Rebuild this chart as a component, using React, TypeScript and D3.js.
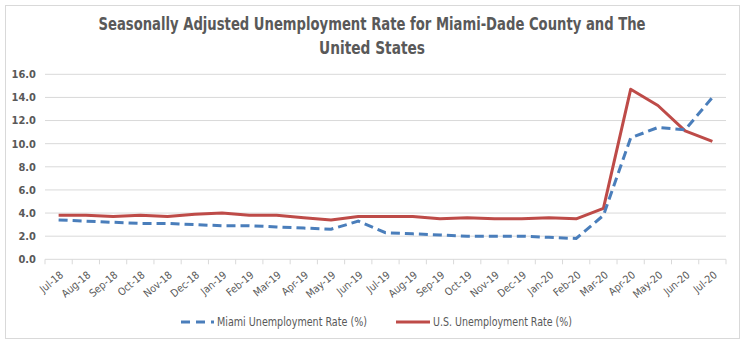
import React from "react";
import * as d3 from "d3";

const months = ["Jul-18","Aug-18","Sep-18","Oct-18","Nov-18","Dec-18","Jan-19","Feb-19","Mar-19","Apr-19","May-19","Jun-19","Jul-19","Aug-19","Sep-19","Oct-19","Nov-19","Dec-19","Jan-20","Feb-20","Mar-20","Apr-20","May-20","Jun-20","Jul-20"];
const miami = [3.4,3.3,3.2,3.1,3.1,3.0,2.9,2.9,2.8,2.7,2.6,3.3,2.3,2.2,2.1,2.0,2.0,2.0,1.9,1.8,3.8,10.5,11.4,11.2,14.0];
const us = [3.8,3.8,3.7,3.8,3.7,3.9,4.0,3.8,3.8,3.6,3.4,3.7,3.7,3.7,3.5,3.6,3.5,3.5,3.6,3.5,4.4,14.7,13.3,11.1,10.2];
const yTicks = [0,2,4,6,8,10,12,14,16];
const seriesNames = ["Miami Unemployment Rate (%)", "U.S. Unemployment Rate (%)"];
const titleLines = ["Seasonally Adjusted Unemployment Rate for Miami-Dade County and The", "United States"];

export default function App() {
  const W = 747, H = 345;
  const left = 45, right = 726, top = 74.3, bottom = 259.3;
  const x = d3.scaleBand<string>().domain(months).range([left, right]).padding(0);
  const y = d3.scaleLinear().domain([0, 16]).range([bottom, top]);
  const cx = (m: string) => (x(m) as number) + x.bandwidth() / 2;
  const line = d3.line<number>().x((_, i) => cx(months[i])).y((d) => y(d));
  const font = "'DejaVu Sans Condensed', 'Liberation Sans', sans-serif";
  const textColor = "#595959";
  const blue = "#4A7EBB";
  const red = "#BE4B48";
  const boundaries = d3.range(months.length + 1).map((i) => left + i * x.bandwidth());
  const titleWidths = [547, 106];
  const legendWidths = [150, 139];
  return (
    <svg width={W} height={H} style={{ position: "absolute", left: 0, top: 0, fontFamily: font }}>
      <rect x={0} y={0} width={W} height={H} fill="#fff" />
      <rect x={5.5} y={5.5} width={734} height={333} fill="#fff" stroke="#d9d9d9" strokeWidth={1} />
      {titleLines.map((t, i) => (
        <text key={i} x={372} y={30 + i * 24} textAnchor="middle" fontSize={17.5} fontWeight="bold" fill={textColor} textLength={titleWidths[i]} lengthAdjust="spacingAndGlyphs">{t}</text>
      ))}
      {yTicks.map((t) => (
        <g key={t}>
          {t > 0 && <line x1={left} x2={right} y1={y(t)} y2={y(t)} stroke="#d9d9d9" strokeWidth={1} />}
          <text x={36} y={y(t)} dy="0.35em" textAnchor="end" fontSize={11} fontWeight="bold" fill={textColor}>{t.toFixed(1)}</text>
        </g>
      ))}
      <line x1={left} x2={right} y1={bottom} y2={bottom} stroke="#d9d9d9" strokeWidth={1} />
      {boundaries.map((b, i) => (
        <line key={i} x1={b} x2={b} y1={bottom} y2={bottom + 5} stroke="#d9d9d9" strokeWidth={1} />
      ))}
      {months.map((m) => (
        <text key={m} transform={`translate(${cx(m) + 3},${bottom + 14}) rotate(-40)`} textAnchor="end" dy="0.35em" fontSize={10.5} fill={textColor}>{m}</text>
      ))}
      <path d={line(us) || ""} fill="none" stroke={red} strokeWidth={3} strokeLinejoin="round" />
      <path d={line(miami) || ""} fill="none" stroke={blue} strokeWidth={3} strokeDasharray="9,5" />
      <line x1={181} x2={214} y1={322} y2={322} stroke={blue} strokeWidth={3} strokeDasharray="9,6" />
      <text x={217} y={322} dy="0.35em" fontSize={11.5} fill={textColor} textLength={legendWidths[0]} lengthAdjust="spacingAndGlyphs">{seriesNames[0]}</text>
      <line x1={396} x2={430} y1={322} y2={322} stroke={red} strokeWidth={3} />
      <text x={433} y={322} dy="0.35em" fontSize={11.5} fill={textColor} textLength={legendWidths[1]} lengthAdjust="spacingAndGlyphs">{seriesNames[1]}</text>
    </svg>
  );
}
